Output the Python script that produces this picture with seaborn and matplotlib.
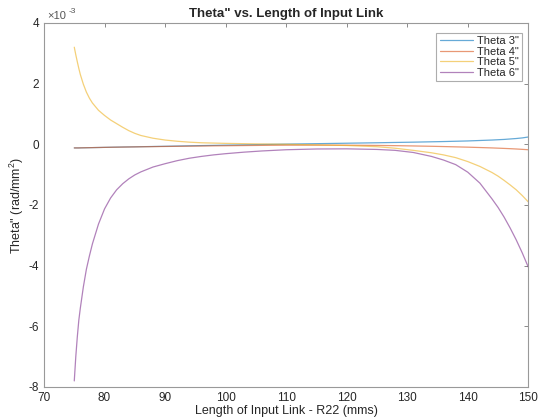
import numpy as np
import pandas as pd
import matplotlib
matplotlib.use("Agg")
import matplotlib.pyplot as plt
import seaborn as sns
from matplotlib.ticker import FuncFormatter

# x positions (Length of input link R22, mm)
r22 = [75, 75.25, 75.5, 75.75, 76, 76.5, 77, 77.5, 78, 79, 80, 81, 82, 83, 84, 85, 86,
       88, 90, 92, 94, 96, 98, 100, 103, 106, 110, 115, 120, 125, 128, 131, 134, 136,
       138, 140, 142, 144, 145, 146, 147, 148, 149, 150]

# values in units of 1e-3 rad/mm^2
theta3 = [-0.12, -0.12, -0.12, -0.12, -0.118, -0.116, -0.114, -0.112, -0.11, -0.106, -0.102,
          -0.098, -0.094, -0.09, -0.087, -0.084, -0.08, -0.073, -0.066, -0.058, -0.05, -0.043,
          -0.036, -0.028, -0.018, -0.008, 0.005, 0.02, 0.035, 0.05, 0.06, 0.07, 0.082, 0.09,
          0.1, 0.11, 0.125, 0.14, 0.15, 0.16, 0.175, 0.19, 0.21, 0.24]
theta4 = [-0.12, -0.12, -0.12, -0.12, -0.118, -0.116, -0.114, -0.112, -0.11, -0.106, -0.102,
          -0.098, -0.095, -0.092, -0.089, -0.086, -0.083, -0.077, -0.072, -0.067, -0.062,
          -0.057, -0.052, -0.048, -0.042, -0.036, -0.03, -0.028, -0.03, -0.038, -0.045,
          -0.055, -0.066, -0.075, -0.085, -0.095, -0.107, -0.12, -0.128, -0.136, -0.145,
          -0.155, -0.167, -0.18]
theta5 = [3.2, 2.95, 2.72, 2.5, 2.3, 1.98, 1.72, 1.52, 1.36, 1.12, 0.95, 0.8, 0.68, 0.56,
          0.45, 0.36, 0.29, 0.2, 0.14, 0.1, 0.07, 0.05, 0.04, 0.03, 0.02, 0.01, 0.0, -0.02,
          -0.04, -0.08, -0.13, -0.2, -0.28, -0.35, -0.44, -0.57, -0.73, -0.93, -1.05, -1.19,
          -1.34, -1.5, -1.69, -1.9]
theta6 = [-7.8, -7.0, -6.35, -5.8, -5.4, -4.7, -4.12, -3.68, -3.28, -2.63, -2.13, -1.77,
          -1.5, -1.3, -1.14, -1.01, -0.91, -0.75, -0.64, -0.54, -0.46, -0.40, -0.35, -0.31,
          -0.26, -0.22, -0.18, -0.155, -0.15, -0.17, -0.2, -0.27, -0.4, -0.52, -0.67, -0.92,
          -1.28, -1.8, -2.08, -2.4, -2.76, -3.15, -3.58, -4.05]

series_names = ['Theta 3"', 'Theta 4"', 'Theta 5"', 'Theta 6"']
colors = ['#0072BD', '#D95319', '#EDB120', '#7E2F8E']

frames = []
for name, vals in zip(series_names, [theta3, theta4, theta5, theta6]):
    frames.append(pd.DataFrame({"R22": r22, "val": np.array(vals) * 1e-3, "series": name}))
df = pd.concat(frames, ignore_index=True)

sns.set_style("white")
plt.rcParams['font.family'] = ['Liberation Sans', 'DejaVu Sans']
plt.rcParams['axes.unicode_minus'] = False
plt.rcParams['mathtext.fontset'] = 'custom'
plt.rcParams['mathtext.rm'] = 'Liberation Sans'

fig = plt.figure(figsize=(5.46, 4.17), dpi=100)
ax = fig.add_axes([0.0806, 0.072, 0.887, 0.873])

sns.lineplot(data=df, x="R22", y="val", hue="series", palette=colors,
             hue_order=series_names, linewidth=0.9, alpha=0.6, ax=ax, legend=True)

ax.set_xlim(70, 150)
ax.set_ylim(-8e-3, 4e-3)
ax.set_xticks(np.arange(70, 151, 10))
ax.set_yticks(np.arange(-8e-3, 4.1e-3, 2e-3))
ax.yaxis.set_major_formatter(FuncFormatter(lambda v, p: f"{round(v * 1e3):d}"))

ax.tick_params(direction='in', top=True, right=True, length=3, width=0.6,
               colors='#777777', labelcolor='#262626', labelsize=8.5)
for s in ax.spines.values():
    s.set_color('#999999')
    s.set_linewidth(0.8)

# exponent label as MATLAB shows it
ax.annotate('×10', xy=(0, 1), xycoords='axes fraction', xytext=(2, 1.5),
            textcoords='offset points', fontsize=8, color='#555555', va='bottom', ha='left')
ax.annotate('-3', xy=(0, 1), xycoords='axes fraction', xytext=(17.5, 5.5),
            textcoords='offset points', fontsize=6, color='#555555', va='bottom', ha='left')

ax.set_title('Theta" vs. Length of Input Link', fontsize=9.5, fontweight='bold', pad=4)
ax.set_xlabel('Length of Input Link - R22 (mms)', fontsize=9, labelpad=1)
ax.set_ylabel('Theta" (rad/mm$^2$)', fontsize=9, labelpad=2)

leg = ax.legend(loc='upper right', fontsize=8, handlelength=3.0, frameon=True,
                fancybox=False, borderpad=0.3, labelspacing=0.05, handletextpad=0.4,
                borderaxespad=0.0, bbox_to_anchor=(0.988, 0.973))
leg.get_frame().set_edgecolor('#999999')
leg.get_frame().set_linewidth(0.8)
for line, c in zip(leg.get_lines(), colors):
    line.set_color(c)
    line.set_alpha(0.6)
    line.set_linewidth(0.9)

fig.savefig("out.png", dpi=100)
